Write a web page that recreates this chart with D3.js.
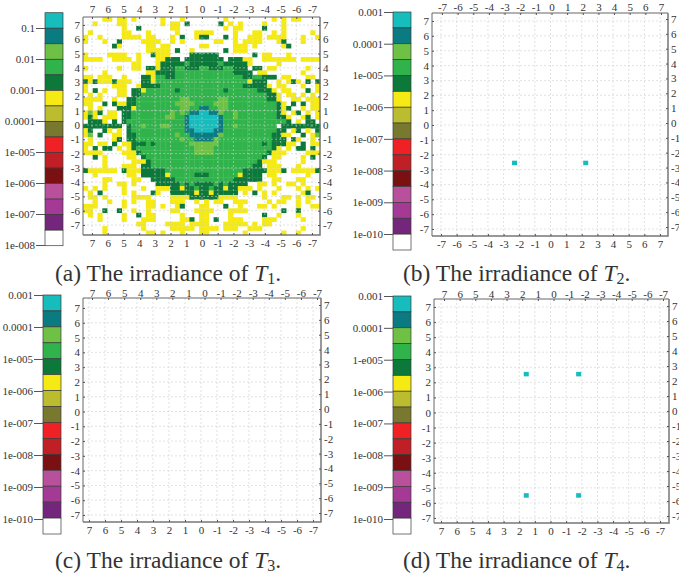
<!DOCTYPE html>
<html>
<head>
<meta charset="utf-8">
<script src="https://cdnjs.cloudflare.com/ajax/libs/d3/7.8.5/d3.min.js"></script>
<style>
body { margin: 0; background: #fff; overflow: hidden; }
text { font-family: "Liberation Serif", serif; fill: #333; }
</style>
</head>
<body>
<div id="chart"></div>
<script>
//Width and height
var w = 679;
var h = 575;

const axis_ticks = [7, 6, 5, 4, 3, 2, 1, 0, -1, -2, -3, -4, -5, -6, -7];
const legend_colors = ["#17bcbc", "#0b7b82", "#6fc146", "#2fb34a", "#0c783a", "#f5ea14", "#bcbc2f",
    "#78782e", "#f02124", "#bf1f25", "#7a1012", "#b9509b", "#a43a96", "#73267c", "#ffffff"];
const legend_labels_t1 = ["0.1", "0.01", "0.001", "0.0001", "1e-005", "1e-006", "1e-007", "1e-008"];
const legend_labels_t2 = ["0.001", "0.0001", "1e-005", "1e-006", "1e-007", "1e-008", "1e-009", "1e-010"];
const legend_labels_t3 = ["0.001", "0.0001", "1e-005", "1e-006", "1e-007", "1e-008", "1e-009", "1e-010"];
const legend_labels_t4 = ["0.001", "0.0001", "1-e005", "1e-006", "1e-007", "1e-008", "1e-009", "1e-010"];

//Bright spots of the small targets, in plot units
const t2_points = [[-2.3, -2.55], [2.25, -2.55]];
const t3_points = [];
const t4_points = [[1.55, 2.55], [-1.8, 2.55], [1.55, -5.5], [-1.8, -5.5]];

//Irradiance cells of T1, read row by row: left half | right half
const t1_rows = [
    "....yy.yy.y.....y...y....|....y.........y.y.yy....",
    "..y....yy.......y.yy.d...|...d.y.y....y...y.......",
    "........y..d......yy.....|....y.yy....d...y.......",
    ".y......yy...y.....y...yy|yy....y...yy..y.y.....y.",
    "y..y....yyyy.yy...y.d..yd|d...d.y..yyy.yyyy...y..y",
    "y...y..d....yyyy..y.y....|..yy..y.yyyy...yd...y...",
    "......dy.....yy.yy......y|y.....yyy.y.....yd......",
    ".............yyyyy.d..y..|....d.yyy...............",
    "y....yyyy..y..dyyy....ddd|ddd.......d.yy...y......",
    "yyyy..yyyy.y...yyddd.dddd|dddd.dddyy..yyyyyyy.yyyy",
    "..........yy...ydddddgddd|dddgdddddy.....y........",
    "y......y..yy.ddydddggdddg|gdddggddd.dd.yy......y..",
    "....y........yyddddgggggg|ggggggdddd.yy.......y...",
    "yy.yyy..y...ddyggddgggggg|ggggggggddggddd.yy...yy.",
    "dydyyydyyy..ddygggggggggg|gggggggggyddd..y.ydy.d.d",
    "y.....yyy..yddddggggggggg|ggggggggdddddy.yy...y..y",
    "y.d.y..yy.ddyggggggdggggg|ggggdggggggdddy.yy...d.y",
    ".y.y...yy.ddggggggggggggg|gggggggggggggddy.yy.y.y.",
    "yyyy..y..ddgggggggggllggg|gggllggggggggddy..yy.yyy",
    "yy..d.dyyddggggggggllllgg|gglllggggggggggdy.d.d.yy",
    ".y.y...dddygggggggggllggt|tggllggggggggggdyd..y.yy",
    "ylyd.yy.ddgggggggglglgttc|cttlgglggggggggdy.yd.y.y",
    "ydy.yyy.ddgggggggllggtccc|ccctgglggggggggddy..yd.y",
    ".dddy.d.dggggggggggggtccc|ccctgggggggggggggd.y.dd.",
    "dddddddd.dgglgggllgggtccc|ccctgglgggggggg.dddddddd",
    "yd..dy.y.dgggggggggggttcc|ccttgggggggggggdd.yd.y.d",
    "yl.d..yy.ddgggggggglggttt|tttlggggggggggddyy..d.yl",
    ".y....yd.ddggggggggglggtt|ttlgggggggggggddd.dy..y.",
    "yy.yy.d.yydddgdggggggglll|lllgggggggggdgdddyy.d.yy",
    "y.d.dd.y.ydggggggggggggll|llggggggggggggdy.y.dd.d.",
    "yyyy....yyydgggggggggggll|llgggggggggggdyyy....yyy",
    "..d.y....yy.dgggggggggggg|ggggggggggggd.yy....y.d.",
    "....y.....yyydggggggggggg|gggggggggggdyyy.....y...",
    "....y...yyy.ddggggggggggg|ggggggggggdd.yyy...y....",
    "dyyyyyy.dyyydddddgggggggg|ggggggggdddddyyyd.yyyyyd",
    "..y......yy.dddddygggggdd|dggggggydddd.yy......y..",
    "....yy....yy..dddddgggggg|ggggggdddddd..yy...yy...",
    "....y..yy.y....dddddgdgdd|ddgdgdddd..yy.y..yy.y...",
    "y.y.y...y...y..yyyddyddgd|dgddyddyyy.y...y...y.y.y",
    ".y.d....y.y...dy..dddddyd|dyddddd.y.d.y.y.....yd..",
    ".yy.y.....yyyy....yyyyddd|dddyyyy.....y...yy.y.yy.",
    "..y..y..y.y..yy...yyy..y.|y.yy..yyy....y.yy..y.y..",
    "yyy.....y....yy.y..yd...y|y...d..y...yy.y....y..yy",
    "yy..d..d..y..y....yy...yy|yy...yyyy.......d..d....",
    ".y.y....y..d.yy.....y...y|y....y......d..y...y....",
    "...y....y...yyy.....yyd.y|y.d..yyy....yyy.....y...",
    "...........yy....yyyy.yyy|y...yyyyy.y.yy..........",
    "....y.......y.....yyyyy.y|yyy.yyy..yyy........y...",
    "....y........yy.y...y...y|y.......y.......y..y...."
];
const t1_codes = ["c", "t", "l", "g", "d", "y"];

var cellColor = d3.scaleOrdinal()
    .domain(t1_codes)
    .range(legend_colors.slice(0, 6));

var svg = d3.select("#chart")
    .append("svg")
    .attr("width", w)
    .attr("height", h);

function drawPanel(p) {
    var g = svg.append("g");

    var xTop = d3.scaleLinear().domain([7, -7]).range(p.xTop);
    var xBottom = d3.scaleLinear().domain([7, -7]).range(p.xBottom);
    if (p.flip) {
        xTop.domain([-7, 7]);
        xBottom.domain([-7, 7]);
    }
    var yLeft = d3.scaleLinear().domain([7, -7]).range(p.yLeft);
    var yRight = d3.scaleLinear().domain([7, -7]).range(p.yRight);

    //Heat cells go under the grid
    if (p.rows) {
        var colScale = d3.scaleBand().domain(d3.range(49)).range([p.left, p.right]);
        var rowScale = d3.scaleBand().domain(d3.range(49)).range([p.top, p.bottom]);
        p.rows.forEach(function (row, r) {
            var cells = row.replace("|", "").split("");
            g.selectAll(null)
                .data(cells.map(function (c, i) { return { c: c, i: i }; }).filter(function (d) { return d.c != "."; }))
                .enter()
                .append("rect")
                .attr("x", function (d) { return colScale(d.i); })
                .attr("y", rowScale(r))
                .attr("width", colScale.bandwidth() + 0.3)
                .attr("height", rowScale.bandwidth() + 0.3)
                .attr("fill", function (d) { return cellColor(d.c); });
        });
    }

    //Dotted grid
    g.selectAll(null)
        .data(axis_ticks)
        .enter()
        .append("line")
        .attr("x1", function (d) { return xBottom(d); })
        .attr("x2", function (d) { return xBottom(d); })
        .attr("y1", p.top)
        .attr("y2", p.bottom)
        .attr("stroke", "#cfcfcf")
        .attr("stroke-opacity", 0.75)
        .attr("stroke-width", 0.8)
        .attr("stroke-dasharray", "2,2");

    g.selectAll(null)
        .data(axis_ticks)
        .enter()
        .append("line")
        .attr("x1", p.left)
        .attr("x2", p.right)
        .attr("y1", function (d) { return yLeft(d); })
        .attr("y2", function (d) { return yLeft(d); })
        .attr("stroke", "#cfcfcf")
        .attr("stroke-opacity", 0.75)
        .attr("stroke-width", 0.8)
        .attr("stroke-dasharray", "2,2");

    //Spots of the small targets
    if (p.points) {
        g.selectAll(null)
            .data(p.points)
            .enter()
            .append("rect")
            .attr("x", function (d) { return xBottom(d[0]) - 2.5; })
            .attr("y", function (d) { return yLeft(d[1]) - 2.2; })
            .attr("width", 5)
            .attr("height", 4.5)
            .attr("fill", legend_colors[0]);
    }

    //Frame
    g.append("path")
        .attr("d", "M" + p.left + "," + p.bottom + "V" + p.top + "H" + p.right)
        .attr("fill", "none")
        .attr("stroke", "#666")
        .attr("stroke-width", 1);
    g.append("path")
        .attr("d", "M" + p.left + "," + p.bottom + "H" + p.right + "V" + p.top)
        .attr("fill", "none")
        .attr("stroke", "#777")
        .attr("stroke-width", 1.5);

    //Axes
    function styleAxis(sel) {
        sel.select(".domain").remove();
        sel.selectAll("line").attr("stroke", "#555");
        sel.selectAll("text")
            .attr("font-size", "11px")
            .attr("font-family", "Liberation Serif")
            .attr("fill", "#333");
    }
    var fmt = function (d) { return String(d); };

    g.append("g")
        .attr("transform", "translate(0," + p.top + ")")
        .call(d3.axisTop(xTop).tickValues(axis_ticks).tickFormat(fmt).tickSize(-2).tickPadding(p.topPad))
        .call(styleAxis);
    g.append("g")
        .attr("transform", "translate(0," + p.bottom + ")")
        .call(d3.axisBottom(xBottom).tickValues(axis_ticks).tickFormat(fmt).tickSize(-2).tickPadding(4))
        .call(styleAxis);
    g.append("g")
        .attr("transform", "translate(" + p.left + ",0)")
        .call(d3.axisLeft(yLeft).tickValues(axis_ticks).tickFormat(fmt).tickSize(-2).tickPadding(3))
        .call(styleAxis);
    g.append("g")
        .attr("transform", "translate(" + p.right + ",0)")
        .call(d3.axisRight(yRight).tickValues(axis_ticks).tickFormat(fmt).tickSize(-2).tickPadding(3))
        .call(styleAxis);

    //Colour legend
    var swatch = d3.scaleBand().domain(d3.range(legend_colors.length)).range(p.barY);
    g.selectAll(null)
        .data(legend_colors)
        .enter()
        .append("rect")
        .attr("x", p.barX[0])
        .attr("y", function (d, i) { return swatch(i); })
        .attr("width", p.barX[1] - p.barX[0])
        .attr("height", swatch.bandwidth())
        .attr("fill", function (d) { return d; })
        .attr("stroke", "#3a3a3a")
        .attr("stroke-width", 0.7);

    var legendScale = d3.scalePoint().domain(p.labels).range(p.labelY);
    g.append("g")
        .attr("transform", "translate(" + p.barX[0] + ",0)")
        .call(d3.axisLeft(legendScale).tickSize(9).tickPadding(1))
        .call(styleAxis);

    //Caption
    var cap = g.append("text")
        .attr("x", p.capX)
        .attr("y", p.capY)
        .attr("font-size", "23.5px")
        .attr("fill", "#222");
    cap.append("tspan").text("(" + p.letter + ") The irradiance of ");
    cap.append("tspan").attr("font-style", "italic").text("T");
    cap.append("tspan").attr("font-size", "16px").attr("dy", 3).text(p.sub);
    cap.append("tspan").attr("dy", -3).text(".");
}

drawPanel({
    letter: "a", sub: "1", rows: t1_rows, labels: legend_labels_t1, topPad: 4,
    left: 83, right: 320, top: 17, bottom: 235,
    xTop: [92, 312], xBottom: [92, 312], yLeft: [25, 225], yRight: [25, 225],
    barX: [45, 63], barY: [12.7, 245.7], labelY: [28, 245],
    capX: 55, capY: 281
});
drawPanel({
    letter: "b", sub: "2", points: t2_points, labels: legend_labels_t2, flip: true, topPad: 2,
    left: 432, right: 668, top: 13, bottom: 236,
    xTop: [442, 661], xBottom: [441, 660], yLeft: [21, 229], yRight: [19, 227],
    barX: [393, 411], barY: [12, 250], labelY: [12, 234],
    capX: 403, capY: 281
});
drawPanel({
    letter: "c", sub: "3", points: t3_points, labels: legend_labels_t3, topPad: 1,
    left: 83, right: 321, top: 298, bottom: 522,
    xTop: [92, 317], xBottom: [89, 313], yLeft: [308, 515], yRight: [305, 513],
    barX: [43, 61], barY: [295, 534], labelY: [295, 519],
    capX: 55, capY: 568
});
drawPanel({
    letter: "d", sub: "4", points: t4_points, labels: legend_labels_t4, topPad: 1,
    left: 434, right: 669, top: 299, bottom: 523,
    xTop: [444, 663], xBottom: [441, 660], yLeft: [307, 518], yRight: [306, 516],
    barX: [393, 411], barY: [296, 534], labelY: [296, 519],
    capX: 403, capY: 568
});
</script>
</body>
</html>
